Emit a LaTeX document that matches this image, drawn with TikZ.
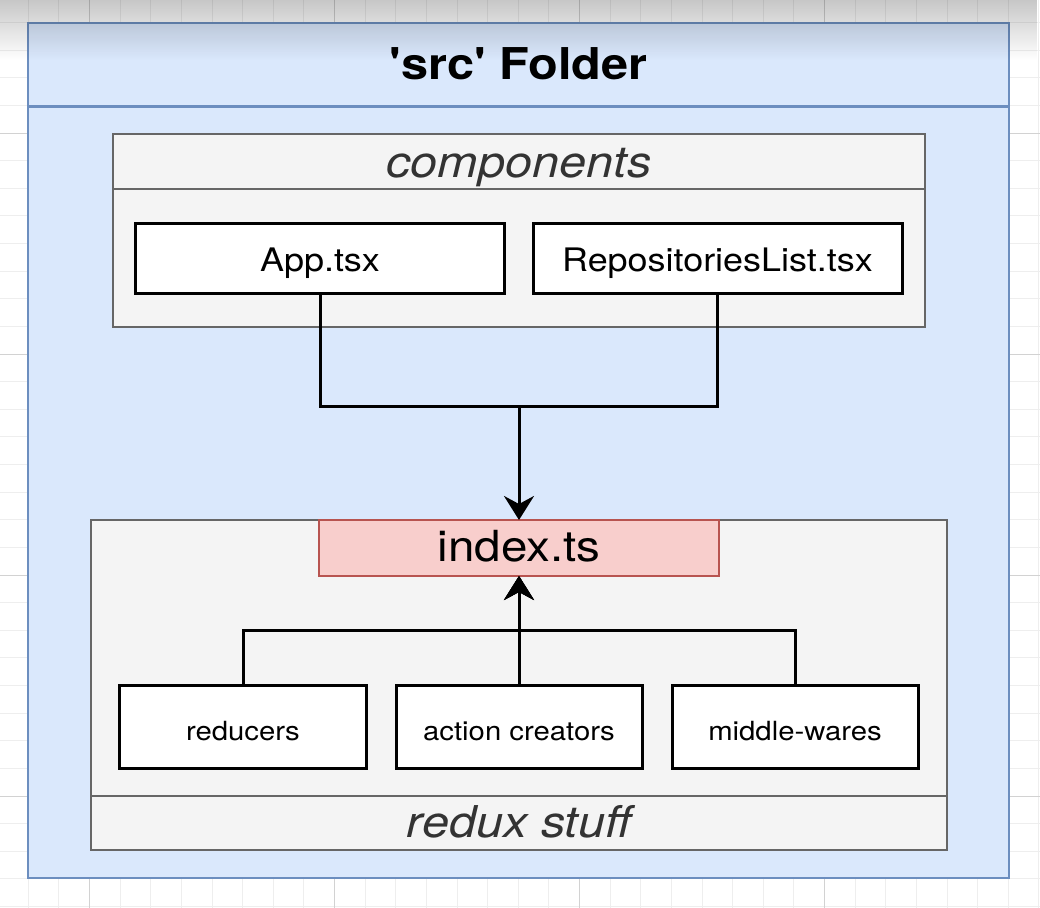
\documentclass[tikz,border=0pt]{standalone}
\usepackage{fontspec}
\setmainfont[FakeStretch=1.11, Ligatures=TeXOff]{TeX Gyre Heros}
\usetikzlibrary{arrows.meta,fadings}

\definecolor{srcfill}{HTML}{DAE8FC}
\definecolor{srcline}{HTML}{6C8EBF}
\definecolor{grpfill}{HTML}{F4F4F4}
\definecolor{grpline}{HTML}{666666}
\definecolor{grptext}{HTML}{333333}
\definecolor{idxfill}{HTML}{F8CECC}
\definecolor{idxline}{HTML}{B85450}
\definecolor{gridminor}{HTML}{EEEEEE}
\definecolor{gridmajor}{HTML}{D2D2D2}

\begin{document}
\begin{tikzpicture}[x=1bp,y=-1bp,
  every node/.style={inner sep=0pt, outer sep=0pt, text depth=0pt},
  srcpart/.style={draw=srcline, fill=srcfill, line width=2.8bp},
  grppart/.style={draw=grpline, fill=grpfill, line width=2.8bp},
  grplabel/.style={text=grptext, font=\fontsize{44}{50}\selectfont\itshape},
  filebox/.style={draw=black, fill=white, line width=3bp,
    font=\fontsize{32.5}{38}\selectfont, text height=27bp},
  partbox/.style={draw=black, fill=white, line width=3bp,
    minimum width=246bp, minimum height=83bp,
    font=\fontsize{26.5}{32}\selectfont, text height=28bp},
  link/.style={draw=black, line width=3bp},
  arrow/.style={link, -{Stealth[length=24bp,width=30bp,inset=8bp]}},
]
\useasboundingbox (0,0) rectangle (1040,908);
\fill[white] (0,0) rectangle (1040,908);

% canvas grid
\foreach \i in {-2,...,31}
  \draw[gridminor, line width=1bp] ({89.5+\i*30.625},0) -- ({89.5+\i*30.625},908);
\foreach \j in {-4,...,28}
  \draw[gridminor, line width=1bp] (0,{133+\j*27.625}) -- (1040,{133+\j*27.625});
\foreach \i in {0,8,16,24}
  \draw[gridmajor, line width=1bp] ({89.5+\i*30.625},0) -- ({89.5+\i*30.625},908);
\foreach \j in {0,8,16,24}
  \draw[gridmajor, line width=1bp] (0,{133+\j*27.625}) -- (1040,{133+\j*27.625});

% 'src' folder container
\node[srcpart, minimum width=981bp, minimum height=771.5bp] (srcbody) at (518.5,492.25) {};
\node[srcpart, minimum width=981bp, minimum height=83.5bp,
  font=\fontsize{44}{50}\selectfont\bfseries, text height=28.5bp] (srchead) at (518.5,64.75) {'src' Folder};

% components group
\node[grppart, minimum width=812bp, minimum height=138bp] (compbody) at (519,258) {};
\node[grppart, grplabel, minimum width=812bp, minimum height=55bp, text height=31bp] (comphead) at (519,161.5) {components};

% redux group
\node[grppart, minimum width=856bp, minimum height=276bp] (reduxbody) at (519,658) {};
\node[grppart, grplabel, minimum width=856bp, minimum height=54bp, text height=28bp] (reduxfoot) at (519,823) {redux stuff};

% files
\node[filebox, minimum width=368bp, minimum height=70bp] (app) at (320,258) {App.tsx};
\node[filebox, minimum width=369bp, minimum height=70bp] (repos) at (717.5,258) {RepositoriesList.tsx};
\node[draw=idxline, fill=idxfill, line width=2.4bp, minimum width=400bp, minimum height=56bp,
  font=\fontsize{43}{50}\selectfont, text height=26bp] (index) at (519,548) {index.ts};

\node[partbox] (reducers) at (243,726.5) {reducers};
\node[partbox] (actions) at (519,726.5) {action creators};
\node[partbox] (middleware) at (795,726.5) {middle-wares};

% connectors
\coordinate (merge) at (519,406);
\coordinate (fork) at (519,630);
\draw[link] (app.south) |- (merge) -| (repos.south);
\draw[arrow] (merge) -- (index.north);
\draw[arrow] (reducers.north) |- (fork) -- (index.south);
\draw[arrow] (middleware.north) |- (fork) -- (index.south);
\draw[arrow] (actions.north) -- (index.south);

% shadow along the top edge
\fill[black, opacity=0.22, path fading=south] (0,0) rectangle (1040,60);
\end{tikzpicture}
\end{document}
